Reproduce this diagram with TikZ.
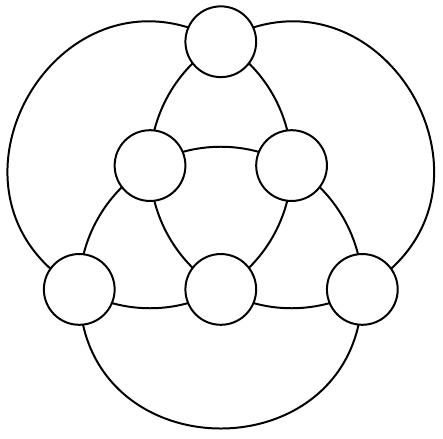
\documentclass[tikz,border=0pt]{standalone}
\usetikzlibrary{backgrounds}
\begin{document}
\begin{tikzpicture}[vertex/.style={circle,draw,thick,fill=white,minimum size=1cm,inner sep=0pt},
        edge/.style={thick},
        arcshort/.style={bend right=30,looseness=0.91},
        arclong/.style={bend right=90,looseness=1.68}]
        \useasboundingbox (-3.12,-2.1) rectangle (3.14,4.09);
        \node[vertex] (top) at (0,3.5) {};
        \node[vertex] (ml) at (-1,1.75) {};
        \node[vertex] (mr) at (1,1.75) {};
        \node[vertex] (bl) at (-2,0) {};
        \node[vertex] (bm) at (0,0) {};
        \node[vertex] (br) at (2,0) {};
        \begin{scope}[on background layer]
            % circle round mr
            \draw[edge] (br.center) to[arclong] (top.center);
            \draw[edge] (top.center) to[arcshort] (ml.center);
            \draw[edge] (ml.center) to[arcshort] (bm.center);
            \draw[edge] (bm.center) to[arcshort] (br.center);
            % circle round ml
            \draw[edge] (bm.center) to[arcshort] (mr.center);
            \draw[edge] (mr.center) to[arcshort] (top.center);
            \draw[edge] (top.center) to[arclong] (bl.center);
            \draw[edge] (bl.center) to[arcshort] (bm.center);
            % circle round bm
            \draw[edge] (br.center) to[arcshort] (mr.center);
            \draw[edge] (mr.center) to[arcshort] (ml.center);
            \draw[edge] (ml.center) to[arcshort] (bl.center);
            \draw[edge] (bl.center) to[arclong] (br.center);
        \end{scope}
\end{tikzpicture}
\end{document}
